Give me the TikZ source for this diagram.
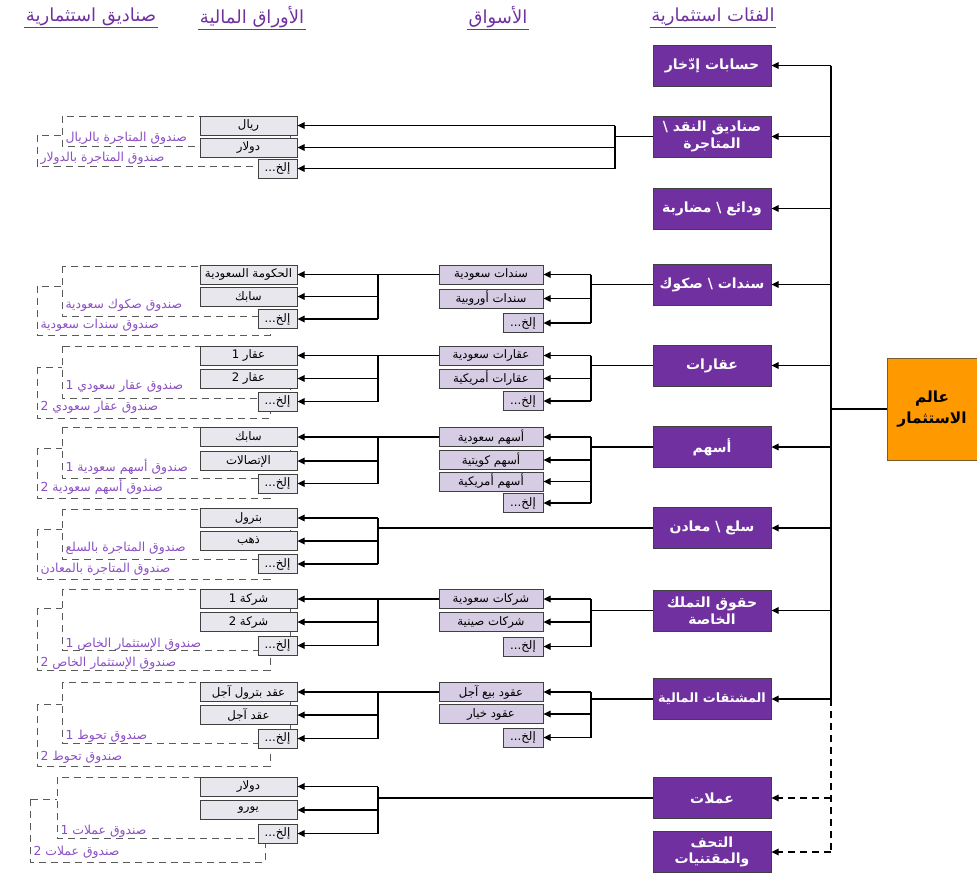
\documentclass[tikz,border=0pt]{standalone}
\usepackage{fontspec}
\setmainfont{Liberation Sans}
\newfontfamily\arabicfont[Script=Arabic]{DejaVu Sans}
\TeXXeTstate=1
\usetikzlibrary{arrows.meta}
\newcommand{\ar}[1]{{\arabicfont\beginR #1\endR}}
\definecolor{catc}{HTML}{7030A0}
\definecolor{mktc}{HTML}{D6CCE4}
\definecolor{secc}{HTML}{E9E7EE}
\definecolor{orng}{HTML}{FF9900}
\definecolor{lblc}{HTML}{8B4FC4}
\definecolor{bord}{HTML}{404040}
\definecolor{dashc}{HTML}{5A5A5A}
\begin{document}
\begin{tikzpicture}[x=0.75pt,y=-0.75pt,
  box/.style={draw=bord, line width=0.6pt, inner sep=0pt, font=\arabicfont\fontsize{8.8}{10}\selectfont},
  secb/.style={box, fill=secc, minimum width=72.75pt, minimum height=14.25pt},
  secx/.style={box, fill=secc, minimum width=29.25pt, minimum height=14.25pt},
  mktb/.style={box, fill=mktc, minimum width=78pt, minimum height=14.25pt},
  mktx/.style={box, fill=mktc, minimum width=30pt, minimum height=14.25pt},
  cat/.style={draw=bord, line width=0.6pt, fill=catc, text=white, align=center, font=\arabicfont\bfseries\fontsize{10.5}{12.5}\selectfont, minimum width=88.5pt, minimum height=30.75pt, inner sep=1pt},
  world/.style={draw=bord!70!orng, line width=0.6pt, fill=orng, text=black, align=center, font=\arabicfont\bfseries\fontsize{11.5}{16}\selectfont, minimum width=67.5pt, minimum height=76.5pt, inner sep=1pt},
  hdr/.style={text=catc, font=\arabicfont\fontsize{13.5}{15}\selectfont, inner sep=1pt},
  uline/.style={draw=catc, line width=0.9pt},
  lbl/.style={text=lblc, anchor=west, inner sep=1pt, font=\arabicfont\fontsize{9.3}{10}\selectfont},
  fundA/.style={draw=dashc, line width=0.75pt, dash pattern=on 5.5pt off 3.5pt, fill=white},
  fundB/.style={draw=dashc, line width=0.75pt, dash pattern=on 5.5pt off 3.5pt},
  conn/.style={draw=black, line width=1pt},
  dconn/.style={dash pattern=on 5.5pt off 3.5pt},
  arr/.style={conn, -{Triangle[length=5.5pt,width=5pt]}},
]
\useasboundingbox (0,0) rectangle (977,876);

% headers
\node[hdr] (h1) at (91,17) {\ar{صناديق استثمارية}};
\node[hdr] (h2) at (252,17) {\ar{الأوراق المالية}};
\node[hdr] (h3) at (498,17) {\ar{الأسواق}};
\node[hdr] (h4) at (713,17) {\ar{الفئات استثمارية}};
\foreach \h in {h1,h2,h3,h4} \draw[uline] (\h.south west) -- (\h.south east);

% fund outlines and labels
\draw[fundB] (37,135) rectangle (270,166);
\draw[fundA] (62,116) rectangle (290,146);
\node[lbl] (f2a) at (64,138) {\ar{صندوق المتاجرة بالريال}};
\node[lbl] (f2b) at (39,158) {\ar{صندوق المتاجرة بالدولار}};

\draw[fundB] (37,286) rectangle (270,335);
\draw[fundA] (62,266) rectangle (290,316);
\node[lbl] (f4a) at (64,305) {\ar{صندوق صكوك سعودية}};
\node[lbl] (f4b) at (39,325) {\ar{صندوق سندات سعودية}};

\draw[fundB] (37,367) rectangle (270,418);
\draw[fundA] (62,346) rectangle (290,398);
\node[lbl] (f5a) at (64,386) {\ar{صندوق عقار سعودي 1}};
\node[lbl] (f5b) at (39,407) {\ar{صندوق عقار سعودي 2}};

\draw[fundB] (37,448) rectangle (270,498);
\draw[fundA] (62,427) rectangle (290,478);
\node[lbl] (f6a) at (64,467) {\ar{صندوق أسهم سعودية 1}};
\node[lbl] (f6b) at (39,487) {\ar{صندوق أسهم سعودية 2}};

\draw[fundB] (37,529) rectangle (270,579);
\draw[fundA] (62,509) rectangle (290,559);
\node[lbl] (f7a) at (64,548) {\ar{صندوق المتاجرة بالسلع}};
\node[lbl] (f7b) at (39,569) {\ar{صندوق المتاجرة بالمعادن}};

\draw[fundB] (37,608) rectangle (270,670);
\draw[fundA] (62,589) rectangle (290,650);
\node[lbl] (f8a) at (64,644) {\ar{صندوق الإستثمار الخاص 1}};
\node[lbl] (f8b) at (39,663) {\ar{صندوق الإستثمار الخاص 2}};

\draw[fundB] (37,704) rectangle (270,766);
\draw[fundA] (62,682) rectangle (290,743);
\node[lbl] (f9a) at (64,736) {\ar{صندوق تحوط 1}};
\node[lbl] (f9b) at (39,757) {\ar{صندوق تحوط 2}};

\draw[fundB] (30,799) rectangle (265,862);
\draw[fundA] (57,777) rectangle (290,838);
\node[lbl] (f10a) at (59,831) {\ar{صندوق عملات 1}};
\node[lbl] (f10b) at (32,852) {\ar{صندوق عملات 2}};

% main box and categories
\node[world] (w) at (932,409) {\ar{عالم}\\\ar{الاستثمار}};
\node[cat] (c1) at (712,65.5) {\ar{حسابات إدّخار}};
\node[cat] (c2) at (712,136.5) {\ar{صناديق النقد \textbackslash{}}\\\ar{المتاجرة}};
\node[cat] (c3) at (712,208.5) {\ar{ودائع \textbackslash{} مضاربة}};
\node[cat] (c4) at (712,284.5) {\ar{سندات \textbackslash{} صكوك}};
\node[cat] (c5) at (712,365.5) {\ar{عقارات}};
\node[cat] (c6) at (712,447) {\ar{أسهم}};
\node[cat] (c7) at (712,528) {\ar{سلع \textbackslash{} معادن}};
\node[cat] (c8) at (712,610.5) {\ar{حقوق التملك}\\\ar{الخاصة}};
\node[cat, font=\arabicfont\bfseries\fontsize{9.6}{12}\selectfont] (c9) at (712,699) {\ar{المشتقات المالية}};
\node[cat] (c10) at (712,798) {\ar{عملات}};
\node[cat] (c11) at (712,852) {\ar{التحف}\\\ar{والمقتنيات}};

% markets
\node[mktb] (m4a) at (491,274.5) {\ar{سندات سعودية}};
\node[mktb] (m4b) at (491,298.5) {\ar{سندات أوروبية}};
\node[mktx] (m4c) at (523,323) {\ar{إلخ\kern0pt...}};
\node[mktb] (m5a) at (491,355.5) {\ar{عقارات سعودية}};
\node[mktb] (m5b) at (491,378.5) {\ar{عقارات أمريكية}};
\node[mktx] (m5c) at (523,401) {\ar{إلخ\kern0pt...}};
\node[mktb] (m6a) at (491,437) {\ar{أسهم سعودية}};
\node[mktb] (m6b) at (491,460) {\ar{أسهم كويتية}};
\node[mktb] (m6c) at (491,481.5) {\ar{أسهم أمريكية}};
\node[mktx] (m6d) at (523,503) {\ar{إلخ\kern0pt...}};
\node[mktb] (m8a) at (491,599) {\ar{شركات سعودية}};
\node[mktb] (m8b) at (491,622) {\ar{شركات صينية}};
\node[mktx] (m8c) at (523,646.5) {\ar{إلخ\kern0pt...}};
\node[mktb] (m9a) at (491,692) {\ar{عقود بيع آجل}};
\node[mktb] (m9b) at (491,714) {\ar{عقود خيار}};
\node[mktx] (m9c) at (523,737.5) {\ar{إلخ\kern0pt...}};

% securities
\node[secb] (s2a) at (248.5,125.5) {\ar{ريال}};
\node[secb] (s2b) at (248.5,147.5) {\ar{دولار}};
\node[secx] (s2c) at (277.5,168.5) {\ar{إلخ\kern0pt...}};
\node[secb] (s4a) at (248.5,274.5) {\ar{الحكومة السعودية}};
\node[secb] (s4b) at (248.5,296.5) {\ar{سابك}};
\node[secx] (s4c) at (277.5,319) {\ar{إلخ\kern0pt...}};
\node[secb] (s5a) at (248.5,355.5) {\ar{عقار 1}};
\node[secb] (s5b) at (248.5,378.5) {\ar{عقار 2}};
\node[secx] (s5c) at (277.5,401.5) {\ar{إلخ\kern0pt...}};
\node[secb] (s6a) at (248.5,437) {\ar{سابك}};
\node[secb] (s6b) at (248.5,461) {\ar{الإتصالات}};
\node[secx] (s6c) at (277.5,483.5) {\ar{إلخ\kern0pt...}};
\node[secb] (s7a) at (248.5,518) {\ar{بترول}};
\node[secb] (s7b) at (248.5,541) {\ar{ذهب}};
\node[secx] (s7c) at (277.5,564) {\ar{إلخ\kern0pt...}};
\node[secb] (s8a) at (248.5,599) {\ar{شركة 1}};
\node[secb] (s8b) at (248.5,622) {\ar{شركة 2}};
\node[secx] (s8c) at (277.5,645.5) {\ar{إلخ\kern0pt...}};
\node[secb] (s9a) at (248.5,692) {\ar{عقد بترول آجل}};
\node[secb] (s9b) at (248.5,715) {\ar{عقد آجل}};
\node[secx] (s9c) at (277.5,738.5) {\ar{إلخ\kern0pt...}};
\node[secb] (s10a) at (248.5,786.5) {\ar{دولار}};
\node[secb] (s10b) at (248.5,810) {\ar{يورو}};
\node[secx] (s10c) at (277.5,833.5) {\ar{إلخ\kern0pt...}};

% bracket positions
\coordinate (xr) at (831,0);
\coordinate (xm) at (591,0);
\coordinate (xb) at (378,0);
\coordinate (x2) at (615,0);

% world to categories
\draw[conn] (w.west) -- (w.west -| xr);
\draw[conn] (c1.east -| xr) -- (c9.east -| xr);
\draw[conn, dconn] (c9.east -| xr) -- (c11.east -| xr);
\foreach \c in {c1,c2,c3,c4,c5,c6,c7,c8,c9}
  \draw[arr] (\c.east -| xr) -- (\c.east);
\foreach \c in {c10,c11}
  \draw[arr, dconn] (\c.east -| xr) -- (\c.east);

% categories to markets
\foreach \c/\a/\z/\l in {c4/m4a/m4c/{m4a,m4b,m4c}, c5/m5a/m5c/{m5a,m5b,m5c}, c6/m6a/m6d/{m6a,m6b,m6c,m6d}, c8/m8a/m8c/{m8a,m8b,m8c}, c9/m9a/m9c/{m9a,m9b,m9c}}{
  \draw[conn] (\c.west) -- (\c.west -| xm);
  \draw[conn] (\a.east -| xm) -- (\z.east -| xm);
  \foreach \m in \l \draw[arr] (\m.east -| xm) -- (\m.east);
}

% category 2 to securities
\draw[conn] (c2.west) -- (c2.west -| x2);
\draw[conn] (s2a.east -| x2) -- (s2c.east -| x2);
\foreach \s in {s2a,s2b,s2c} \draw[arr] (\s.east -| x2) -- (\s.east);

% markets to securities
\foreach \m/\a/\z/\l in {m4a/s4a/s4c/{s4b,s4c}, m5a/s5a/s5c/{s5b,s5c}, m6a/s6a/s6c/{s6b,s6c}, m8a/s8a/s8c/{s8b,s8c}, m9a/s9a/s9c/{s9b,s9c}}{
  \draw[arr] (\m.west) -- (\a.east);
  \draw[conn] (\a.east -| xb) -- (\z.east -| xb);
  \foreach \s in \l \draw[arr] (\s.east -| xb) -- (\s.east);
}

% categories directly to securities
\foreach \c/\a/\z in {c7/s7a/s7c, c10/s10a/s10c}{
  \draw[conn] (\c.west) -- (\c.west -| xb);
  \draw[conn] (\a.east -| xb) -- (\z.east -| xb);
}
\foreach \s in {s7a,s7b,s7c,s10a,s10b,s10c} \draw[arr] (\s.east -| xb) -- (\s.east);
\end{tikzpicture}
\end{document}
